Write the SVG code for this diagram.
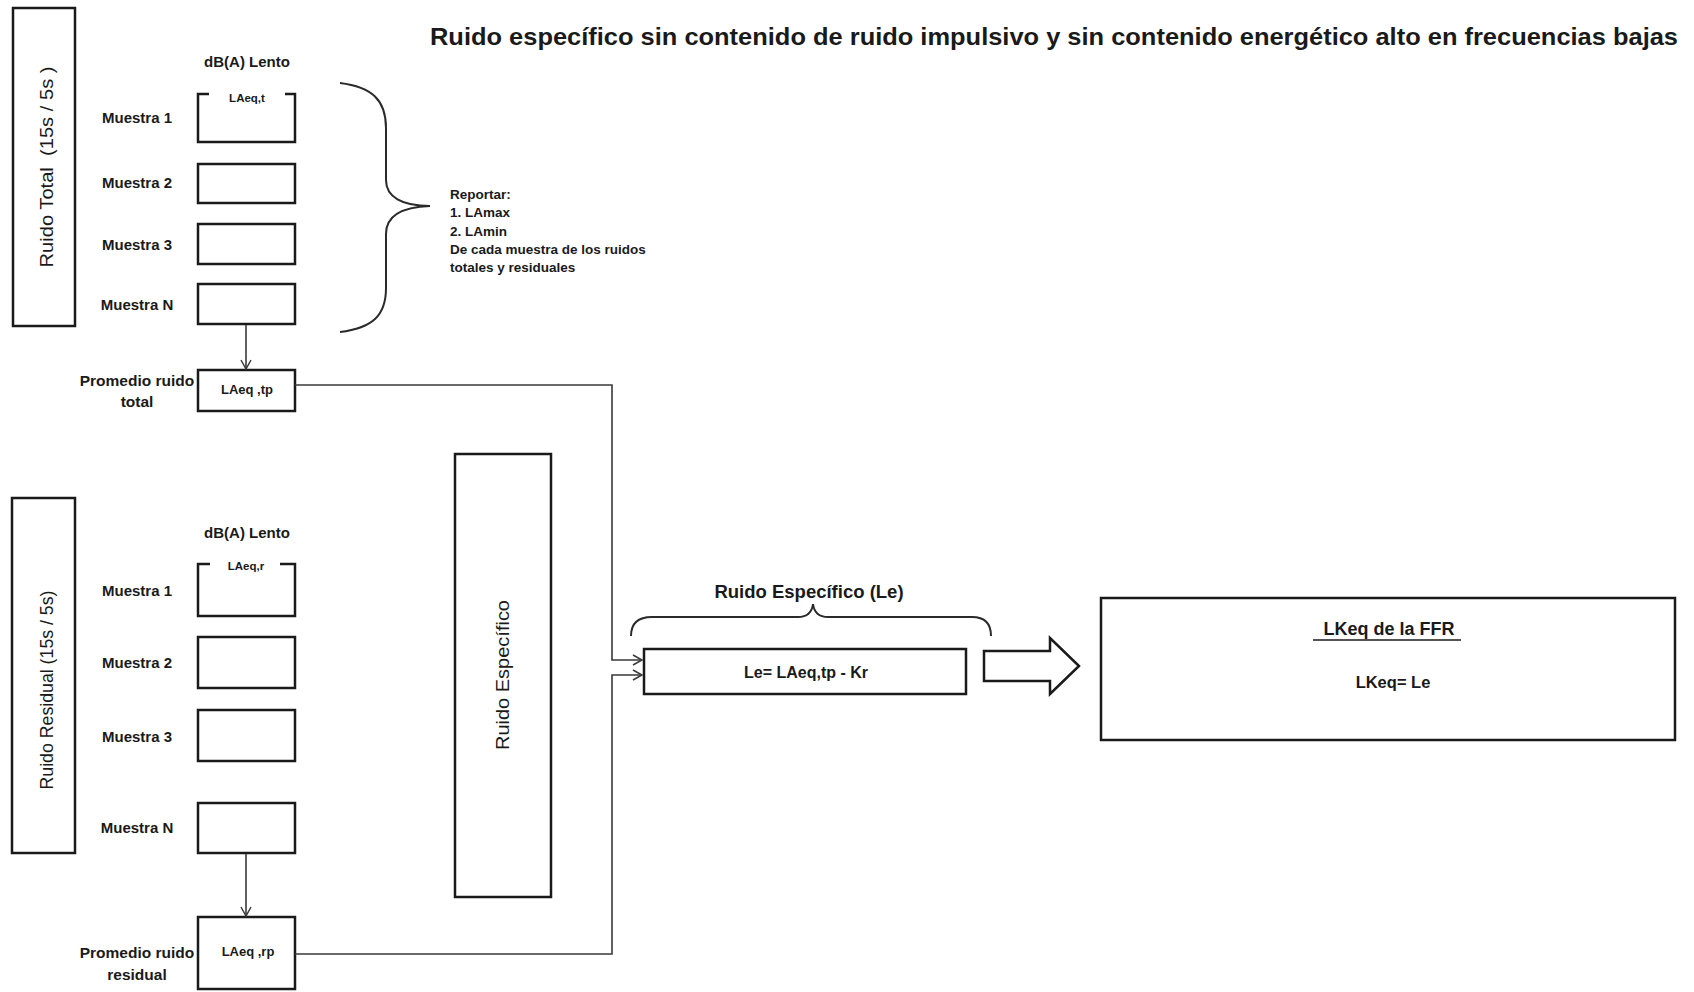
<svg xmlns="http://www.w3.org/2000/svg" width="1694" height="992" viewBox="0 0 1694 992">
<defs>
<style>
.box{fill:none;stroke:#1a1a1a;stroke-width:2.5}
.t{font-family:"Liberation Sans",Arial,sans-serif;font-weight:bold;fill:#1a1a1a}
.r{font-family:"Liberation Sans",Arial,sans-serif;fill:#1a1a1a}
.c{text-anchor:middle}
.con{fill:none;stroke:#3a3a3a;stroke-width:1.6}
.brace{fill:none;stroke:#2a2a2a;stroke-width:2}
</style>
<marker id="ah" markerWidth="12" markerHeight="12" refX="10" refY="6" orient="auto" markerUnits="userSpaceOnUse">
<path d="M1,1 L10,6 L1,11" fill="none" stroke="#3a3a3a" stroke-width="1.5"/>
</marker>
</defs>
<rect width="1694" height="992" fill="#fff"/>

<text id="title" class="t" x="430" y="45" font-size="24" textLength="1248" lengthAdjust="spacingAndGlyphs">Ruido específico sin contenido de ruido impulsivo y sin contenido energético alto en frecuencias bajas</text>

<g id="ruido-total">
<rect class="box" x="13" y="8" width="62" height="318"/>
<text class="r c" transform="translate(53,167) rotate(-90)" font-size="18" textLength="201" lengthAdjust="spacingAndGlyphs" style="white-space:pre">Ruido Total  (15s / 5s )</text>
</g>

<g id="top-samples">
<text class="t c" x="247" y="67" font-size="15">dB(A) Lento</text>
<path class="box" d="M209,94 H198 V142 H295 V94 H285"/>
<text class="t c" x="247" y="102" font-size="11.5">LAeq,t</text>
<text class="t c" x="137" y="123" font-size="15">Muestra 1</text>
<rect class="box" x="198" y="164" width="97" height="39"/>
<text class="t c" x="137" y="188" font-size="15">Muestra 2</text>
<rect class="box" x="198" y="224" width="97" height="40"/>
<text class="t c" x="137" y="250" font-size="15">Muestra 3</text>
<rect class="box" x="198" y="284" width="97" height="40"/>
<text class="t c" x="137" y="310" font-size="15">Muestra N</text>
</g>

<g id="reportar">
<path class="brace" d="M340,83 C372,87 386,100 386,128 V180 C386,197 402,206 430,206 C402,207 386,216 386,234 V288 C386,316 372,328 340,332"/>
<text class="t" x="450" y="199" font-size="13.5">Reportar:</text>
<text class="t" x="450" y="217" font-size="13.5">1. LAmax</text>
<text class="t" x="450" y="236" font-size="13.5">2. LAmin</text>
<text class="t" x="450" y="254" font-size="13.5">De cada muestra de los ruidos</text>
<text class="t" x="450" y="272" font-size="13.5">totales y residuales</text>
</g>

<g id="promedio-total">
<rect class="box" x="198" y="370" width="97" height="41"/>
<text class="t c" x="247" y="394" font-size="13">LAeq ,tp</text>
<text class="t c" x="137" y="386" font-size="15.5">Promedio ruido</text>
<text class="t c" x="137" y="407" font-size="15.5">total</text>
</g>

<g id="ruido-residual">
<rect class="box" x="12" y="498" width="63" height="355"/>
<text class="r c" transform="translate(53,690) rotate(-90)" font-size="18" textLength="199" lengthAdjust="spacingAndGlyphs">Ruido Residual (15s / 5s)</text>
</g>

<g id="bottom-samples">
<text class="t c" x="247" y="538" font-size="15">dB(A) Lento</text>
<path class="box" d="M210,564 H198 V616 H295 V564 H280"/>
<text class="t c" x="246" y="570" font-size="11.5">LAeq,r</text>
<text class="t c" x="137" y="596" font-size="15">Muestra 1</text>
<rect class="box" x="198" y="637" width="97" height="51"/>
<text class="t c" x="137" y="668" font-size="15">Muestra 2</text>
<rect class="box" x="198" y="710" width="97" height="51"/>
<text class="t c" x="137" y="742" font-size="15">Muestra 3</text>
<rect class="box" x="198" y="803" width="97" height="50"/>
<text class="t c" x="137" y="833" font-size="15">Muestra N</text>
</g>

<g id="promedio-residual">
<rect class="box" x="198" y="917" width="97" height="72"/>
<text class="t c" x="248" y="956" font-size="13">LAeq ,rp</text>
<text class="t c" x="137" y="958" font-size="15.5">Promedio ruido</text>
<text class="t c" x="137" y="980" font-size="15.5">residual</text>
</g>

<g id="ruido-especifico">
<rect class="box" x="455" y="454" width="96" height="443"/>
<text class="r c" transform="translate(509,675) rotate(-90)" font-size="18" textLength="150" lengthAdjust="spacingAndGlyphs">Ruido Específico</text>
</g>

<g id="le">
<path class="brace" d="M631,636 C631,624 637,617 652,617 H798 C808,617 812,612 813,604 C814,612 818,617 828,617 H972 C985,617 991,624 991,636"/>
<text class="t c" x="809" y="598" font-size="18.5">Ruido Específico (Le)</text>
<rect class="box" x="644" y="649" width="322" height="45"/>
<text class="t c" x="806" y="678" font-size="16">Le= LAeq,tp - Kr</text>
</g>

<g id="big-arrow">
<polygon class="box" points="984,651 1050,651 1050,638 1079,666 1050,694 1050,681 984,681"/>
</g>

<g id="lkeq">
<rect class="box" x="1101" y="598" width="574" height="142"/>
<text class="t c" x="1389" y="635" font-size="18">LKeq de la FFR</text>
<line x1="1313" y1="640" x2="1461" y2="640" stroke="#1a1a1a" stroke-width="1.5"/>
<text class="t c" x="1393" y="688" font-size="16.5">LKeq= Le</text>
</g>

<g id="connectors">
<line class="con" x1="246" y1="325" x2="246" y2="369" marker-end="url(#ah)"/>
<line class="con" x1="246" y1="854" x2="246" y2="916" marker-end="url(#ah)"/>
<path class="con" d="M295,385 H612 V660 H642" marker-end="url(#ah)"/>
<path class="con" d="M295,954 H612 V675 H642" marker-end="url(#ah)"/>
</g>
</svg>
